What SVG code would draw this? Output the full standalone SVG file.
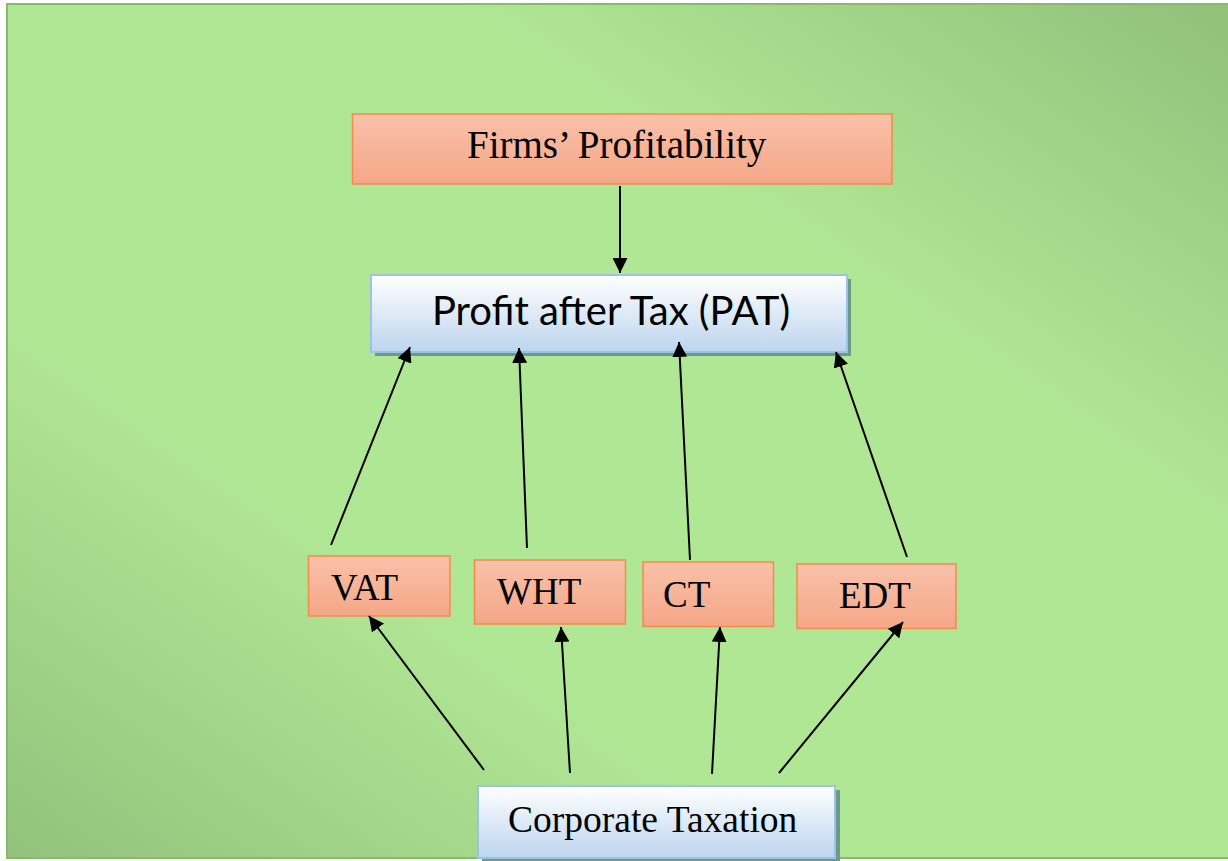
<svg xmlns="http://www.w3.org/2000/svg" width="1228" height="861" viewBox="0 0 1228 861">
<defs>
<linearGradient id="bg" x1="1" y1="0" x2="0" y2="1">
<stop offset="0" stop-color="#90bf79"/>
<stop offset="0.32" stop-color="#b0e795"/>
<stop offset="0.68" stop-color="#b0e795"/>
<stop offset="1" stop-color="#92c27b"/>
</linearGradient>
<linearGradient id="peach" x1="0" y1="0" x2="0" y2="1">
<stop offset="0" stop-color="#f9c1a9"/>
<stop offset="1" stop-color="#f5a788"/>
</linearGradient>
<linearGradient id="blue" x1="0" y1="0" x2="0" y2="1">
<stop offset="0" stop-color="#ffffff"/>
<stop offset="1" stop-color="#bcd5ee"/>
</linearGradient>
<marker id="ah" viewBox="0 0 15 15" refX="15" refY="7.5" markerWidth="15" markerHeight="15" markerUnits="userSpaceOnUse" orient="auto">
<path d="M0,0 L15,7.5 L0,15 z" fill="#000"/>
</marker>
<style>
.peach{fill:url(#peach);stroke:#f28c4c;stroke-width:1.5}
.blue{fill:url(#blue);stroke:#9cc2e8;stroke-width:2}
.shadow{fill:#6a9b8a}
.tnr{font-family:"Liberation Serif","Times New Roman",serif;fill:#000}
.sans{font-family:Lato,"Open Sans",sans-serif;fill:#000}
.conn line{stroke:#000;stroke-width:2;marker-end:url(#ah)}
</style>
</defs>
<rect x="7" y="4" width="1240" height="854" fill="url(#bg)" stroke="#8ab96e" stroke-width="2"/>
<g id="firms">
<rect class="peach" x="352.5" y="114" width="539.5" height="70"/>
<text class="tnr" x="467" y="158" font-size="39">Firms’ Profitability</text>
</g>
<g id="pat">
<rect class="shadow" x="375" y="279" width="476" height="77"/>
<rect class="blue" x="371" y="275" width="476" height="77"/>
<text class="sans" x="611" y="325" font-size="40" text-anchor="middle">Profit after Tax (PAT)</text>
</g>
<g id="vat">
<rect class="peach" x="308.5" y="556" width="141.5" height="60"/>
<text class="tnr" x="331" y="600" font-size="37">VAT</text>
</g>
<g id="wht">
<rect class="peach" x="474.5" y="560" width="151" height="64"/>
<text class="tnr" x="497" y="604" font-size="37">WHT</text>
</g>
<g id="ct">
<rect class="peach" x="643" y="562" width="130.5" height="64.5"/>
<text class="tnr" x="663" y="607" font-size="37">CT</text>
</g>
<g id="edt">
<rect class="peach" x="797" y="564" width="159" height="64.5"/>
<text class="tnr" x="839" y="608" font-size="37">EDT</text>
</g>
<g id="corporate">
<rect class="shadow" x="482" y="790" width="358" height="74"/>
<rect class="blue" x="478" y="786" width="357" height="72"/>
<text class="tnr" x="508" y="832" font-size="37.5">Corporate Taxation</text>
</g>
<g class="conn">
<line x1="620" y1="186" x2="620" y2="273"/>
<line x1="331" y1="545" x2="410" y2="347"/>
<line x1="527" y1="548" x2="519" y2="348"/>
<line x1="690" y1="560" x2="679" y2="342"/>
<line x1="907" y1="557" x2="836" y2="352"/>
<line x1="484" y1="770" x2="369" y2="616"/>
<line x1="570" y1="773" x2="561" y2="627"/>
<line x1="712" y1="774" x2="720" y2="627"/>
<line x1="779" y1="773" x2="903" y2="622"/>
</g>
</svg>
